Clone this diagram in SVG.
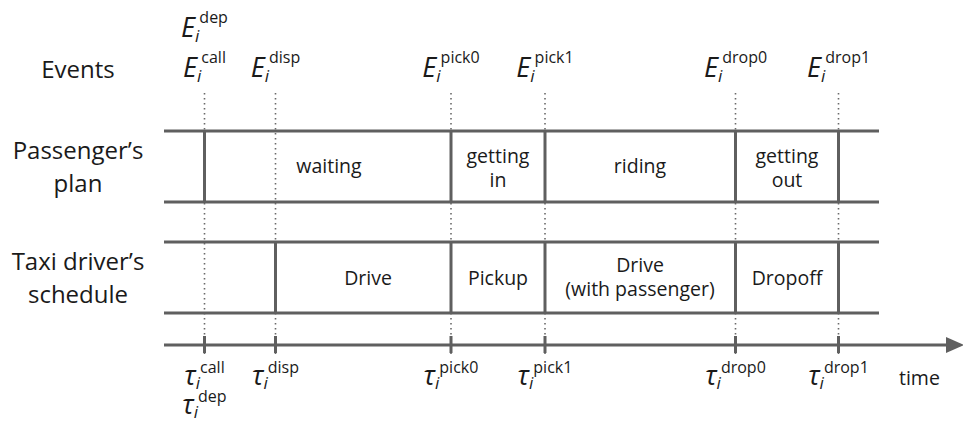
<svg xmlns="http://www.w3.org/2000/svg" width="963" height="427" viewBox="0 0 963 427">
<style>
text{font-family:"Open Sans","DejaVu Sans",sans-serif;fill:#1a1a1a}
.hdr{font-size:24px;text-anchor:middle}
.lbl{font-size:19.5px;text-anchor:middle}
.ev{text-anchor:middle}
.big{font-size:27px;font-style:italic}
.sub{font-size:17px;font-style:italic}
.sup{font-size:16px}
.solid{stroke:#5f5f5f;stroke-width:3;fill:none}
.dot{stroke:#6a6a6a;stroke-width:1.6;stroke-dasharray:1.6 3.4;fill:none}
</style>
<defs>
<marker id="arr" markerWidth="18" markerHeight="16" refX="0" refY="8" orient="auto" markerUnits="userSpaceOnUse">
<path d="M0,0 L18,8 L0,16 Z" fill="#5f5f5f"/>
</marker>
</defs>
<rect width="963" height="427" fill="#ffffff"/>

<g id="headers">
<text class="hdr" x="78" y="78">Events</text>
<text class="hdr" x="78" y="159">Passenger’s</text>
<text class="hdr" x="78" y="192">plan</text>
<text class="hdr" x="78" y="270">Taxi driver’s</text>
<text class="hdr" x="78" y="303">schedule</text>
</g>

<g id="connectors">
<g id="guides">
<line class="dot" x1="204.5" y1="93" x2="204.5" y2="354"/>
<line class="dot" x1="275.5" y1="93" x2="275.5" y2="354"/>
<line class="dot" x1="451" y1="93" x2="451" y2="354"/>
<line class="dot" x1="545" y1="93" x2="545" y2="354"/>
<line class="dot" x1="735.5" y1="93" x2="735.5" y2="354"/>
<line class="dot" x1="838.5" y1="93" x2="838.5" y2="354"/>
</g>
<g id="rows">
<line class="solid" x1="164" y1="131" x2="879" y2="131"/>
<line class="solid" x1="164" y1="202" x2="879" y2="202"/>
<line class="solid" x1="164" y1="242" x2="879" y2="242"/>
<line class="solid" x1="164" y1="313" x2="879" y2="313"/>
</g>
<g id="cells">
<line class="solid" x1="204.5" y1="131" x2="204.5" y2="202"/>
<line class="solid" x1="451" y1="131" x2="451" y2="202"/>
<line class="solid" x1="545" y1="131" x2="545" y2="202"/>
<line class="solid" x1="735.5" y1="131" x2="735.5" y2="202"/>
<line class="solid" x1="838.5" y1="131" x2="838.5" y2="202"/>
<line class="solid" x1="275.5" y1="242" x2="275.5" y2="313"/>
<line class="solid" x1="451" y1="242" x2="451" y2="313"/>
<line class="solid" x1="545" y1="242" x2="545" y2="313"/>
<line class="solid" x1="735.5" y1="242" x2="735.5" y2="313"/>
<line class="solid" x1="838.5" y1="242" x2="838.5" y2="313"/>
</g>
<g id="axis">
<line class="solid" x1="164" y1="345" x2="946" y2="345" marker-end="url(#arr)"/>
<line class="solid" x1="204.5" y1="336" x2="204.5" y2="353"/>
<line class="solid" x1="275.5" y1="336" x2="275.5" y2="353"/>
<line class="solid" x1="451" y1="336" x2="451" y2="353"/>
<line class="solid" x1="545" y1="336" x2="545" y2="353"/>
<line class="solid" x1="735.5" y1="336" x2="735.5" y2="353"/>
<line class="solid" x1="838.5" y1="336" x2="838.5" y2="353"/>
</g>
</g>

<g id="passenger-row">
<text class="lbl" x="329" y="173">waiting</text>
<text class="lbl" x="498" y="163">getting</text>
<text class="lbl" x="498" y="187">in</text>
<text class="lbl" x="640" y="173">riding</text>
<text class="lbl" x="787" y="163">getting</text>
<text class="lbl" x="787" y="187">out</text>
</g>

<g id="taxi-row">
<text class="lbl" x="368" y="285">Drive</text>
<text class="lbl" x="498" y="285">Pickup</text>
<text class="lbl" x="640" y="272">Drive</text>
<text class="lbl" x="640" y="296">(with passenger)</text>
<text class="lbl" x="787" y="285">Dropoff</text>
</g>

<g id="events">
<text class="ev" x="204.5" y="37"><tspan class="big">E</tspan><tspan class="sub" dy="5">i</tspan><tspan class="sup" dy="-19">dep</tspan></text>
<text class="ev" x="204.5" y="77"><tspan class="big">E</tspan><tspan class="sub" dy="5">i</tspan><tspan class="sup" dy="-19">call</tspan></text>
<text class="ev" x="275.5" y="77"><tspan class="big">E</tspan><tspan class="sub" dy="5">i</tspan><tspan class="sup" dy="-19">disp</tspan></text>
<text class="ev" x="451" y="77"><tspan class="big">E</tspan><tspan class="sub" dy="5">i</tspan><tspan class="sup" dy="-19">pick0</tspan></text>
<text class="ev" x="545" y="77"><tspan class="big">E</tspan><tspan class="sub" dy="5">i</tspan><tspan class="sup" dy="-19">pick1</tspan></text>
<text class="ev" x="735.5" y="77"><tspan class="big">E</tspan><tspan class="sub" dy="5">i</tspan><tspan class="sup" dy="-19">drop0</tspan></text>
<text class="ev" x="838.5" y="77"><tspan class="big">E</tspan><tspan class="sub" dy="5">i</tspan><tspan class="sup" dy="-19">drop1</tspan></text>
</g>

<g id="times">
<text class="ev" x="204.5" y="385"><tspan class="big">τ</tspan><tspan class="sub" dy="4">i</tspan><tspan class="sup" dy="-16">call</tspan></text>
<text class="ev" x="204.5" y="414"><tspan class="big">τ</tspan><tspan class="sub" dy="4">i</tspan><tspan class="sup" dy="-16">dep</tspan></text>
<text class="ev" x="275.5" y="385"><tspan class="big">τ</tspan><tspan class="sub" dy="4">i</tspan><tspan class="sup" dy="-16">disp</tspan></text>
<text class="ev" x="451" y="385"><tspan class="big">τ</tspan><tspan class="sub" dy="4">i</tspan><tspan class="sup" dy="-16">pick0</tspan></text>
<text class="ev" x="545" y="385"><tspan class="big">τ</tspan><tspan class="sub" dy="4">i</tspan><tspan class="sup" dy="-16">pick1</tspan></text>
<text class="ev" x="735.5" y="385"><tspan class="big">τ</tspan><tspan class="sub" dy="4">i</tspan><tspan class="sup" dy="-16">drop0</tspan></text>
<text class="ev" x="838.5" y="385"><tspan class="big">τ</tspan><tspan class="sub" dy="4">i</tspan><tspan class="sup" dy="-16">drop1</tspan></text>
<text style="font-size:19.5px" x="899" y="385">time</text>
</g>
</svg>
